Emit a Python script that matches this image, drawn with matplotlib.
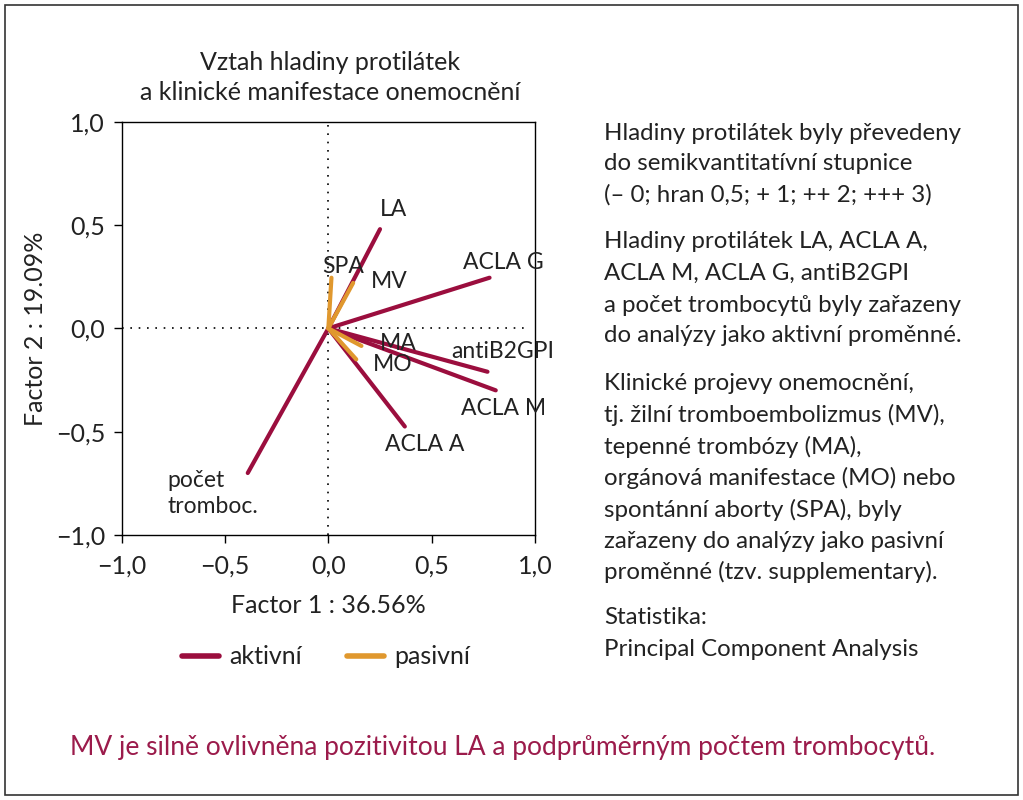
import matplotlib
matplotlib.use("Agg")
import matplotlib.pyplot as plt
from matplotlib.lines import Line2D
from matplotlib.patches import Rectangle

plt.rcParams['font.family'] = ['Lato', 'DejaVu Sans']

# --- data ---
active_names = ["LA", "ACLA G", "antiB2GPI", "ACLA M", "ACLA A", "počet\ntromboc."]
active_x = [0.25, 0.78, 0.77, 0.81, 0.37, -0.39]
active_y = [0.48, 0.245, -0.21, -0.30, -0.475, -0.70]

passive_names = ["SPA", "MV", "MA", "MO"]
passive_x = [0.015, 0.12, 0.16, 0.135]
passive_y = [0.245, 0.22, -0.085, -0.15]

# label anchor positions (data coords, left-aligned)
active_lab_x = [0.25, 0.65, 0.595, 0.64, 0.275, -0.78]
active_lab_y = [0.575, 0.32, -0.11, -0.39, -0.56, -0.80]
passive_lab_x = [-0.03, 0.205, 0.25, 0.215]
passive_lab_y = [0.30, 0.225, -0.075, -0.175]

ticks = [-1.0, -0.5, 0.0, 0.5, 1.0]
tick_labels = ["\u22121,0", "\u22120,5", "0,0", "0,5", "1,0"]

RED = "#9B0E3E"
ORANGE = "#E0982E"
TXT = "#222222"

W, H = 1023, 800
fig = plt.figure(figsize=(W / 100, H / 100), dpi=100)

def fx(px):
    return px / W

def fy(py):
    return 1 - py / H

ax = fig.add_axes([fx(121.7), fy(535), (535 - 121.7) / W, (535 - 121.7) / H])
ax.set_xlim(-1, 1)
ax.set_ylim(-1, 1)
ax.set_xticks(ticks)
ax.set_yticks(ticks)
ax.set_xticklabels(tick_labels, fontsize=18, color=TXT)
ax.set_yticklabels(tick_labels, fontsize=18, color=TXT)
ax.tick_params(axis='x', direction='out', length=6, width=1, pad=8)
ax.tick_params(axis='y', direction='out', length=6, width=1, pad=6)
for s in ax.spines.values():
    s.set_linewidth(1.0)

ax.axhline(0, color='black', lw=1.2, ls=(0, (1, 4)), xmax=0.98)
ax.axvline(0, color='black', lw=1.2, ls=(0, (1, 4)))

for x, y in zip(active_x, active_y):
    ax.plot([0, x], [0, y], color=RED, lw=3, solid_capstyle='round')
for x, y in zip(passive_x, passive_y):
    ax.plot([0, x], [0, y], color=ORANGE, lw=3, solid_capstyle='round')

for n, x, y in zip(active_names, active_lab_x, active_lab_y):
    ax.text(x, y, n, fontsize=16.5, color=TXT, ha='left', va='center', linespacing=1.3)
for n, x, y in zip(passive_names, passive_lab_x, passive_lab_y):
    ax.text(x, y, n, fontsize=16.5, color=TXT, ha='left', va='center')

ax.set_xlabel("Factor 1 : 36.56%", fontsize=18, color=TXT, labelpad=12)
ax.set_ylabel("Factor 2 : 19.09%", fontsize=18, color=TXT, labelpad=6)

fig.text(fx(330), fy(62), "Vztah hladiny protilátek", fontsize=18, color=TXT,
         ha='center', va='center')
fig.text(fx(330), fy(93), "a klinické manifestace onemocnění", fontsize=18, color=TXT,
         ha='center', va='center')

handles = [Line2D([], [], color=RED, lw=4, solid_capstyle='round'),
           Line2D([], [], color=ORANGE, lw=4, solid_capstyle='round')]
fig.legend(handles, ["aktivní", "pasivní"], loc='center', bbox_to_anchor=(fx(326), fy(657)),
           ncol=2, frameon=False, fontsize=18, handlelength=1.5, handletextpad=0.4,
           columnspacing=1.8, labelcolor=TXT)

right_lines = [
    ("Hladiny protilátek byly převedeny", 133),
    ("do semikvantitatívní stupnice", 164),
    ("(– 0; hran 0,5; + 1; ++ 2; +++ 3)", 195),
    ("Hladiny protilátek LA, ACLA A,", 242),
    ("ACLA M, ACLA G, antiB2GPI", 273),
    ("a počet trombocytů byly zařazeny", 305),
    ("do analýzy jako aktivní proměnné.", 336),
    ("Klinické projevy onemocnění,", 384),
    ("tj. žilní tromboembolizmus (MV),", 415),
    ("tepenné trombózy (MA),", 447),
    ("orgánová manifestace (MO) nebo", 478),
    ("spontánní aborty (SPA), byly", 510),
    ("zařazeny do analýzy jako pasivní", 541),
    ("proměnné (tzv. supplementary).", 572),
    ("Statistika:", 618),
    ("Principal Component Analysis", 650),
]
for t, py in right_lines:
    fig.text(fx(604), fy(py), t, fontsize=17.3, color=TXT, ha='left', va='center')

fig.text(fx(70), fy(748), "MV je silně ovlivněna pozitivitou LA a podprůměrným počtem trombocytů.",
         fontsize=19, color="#9B1B4B", ha='left', va='center')

fig.patches.append(Rectangle((fx(5), fy(795)), fx(1013), (790) / H, transform=fig.transFigure,
                             fill=False, edgecolor='#333333', lw=1.2))

fig.savefig("out.png", dpi=100)
